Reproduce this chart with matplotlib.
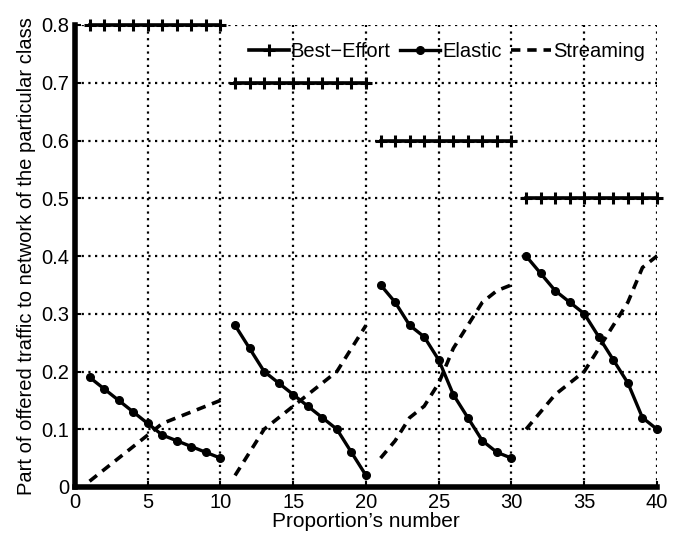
import matplotlib
matplotlib.use("Agg")
import matplotlib.pyplot as plt

plt.rcParams['font.family'] = ['Liberation Sans', 'DejaVu Sans']

# Proportion numbers, four groups of ten
groups = [list(range(1, 11)), list(range(11, 21)), list(range(21, 31)), list(range(31, 41))]

best_effort = [
    [0.8] * 10,
    [0.7] * 10,
    [0.6] * 10,
    [0.5] * 10,
]

elastic = [
    [0.19, 0.17, 0.15, 0.13, 0.11, 0.09, 0.08, 0.07, 0.06, 0.05],
    [0.28, 0.24, 0.20, 0.18, 0.16, 0.14, 0.12, 0.10, 0.06, 0.02],
    [0.35, 0.32, 0.28, 0.26, 0.22, 0.16, 0.12, 0.08, 0.06, 0.05],
    [0.40, 0.37, 0.34, 0.32, 0.30, 0.26, 0.22, 0.18, 0.12, 0.10],
]

streaming = [
    [0.01, 0.03, 0.05, 0.07, 0.09, 0.11, 0.12, 0.13, 0.14, 0.15],
    [0.02, 0.06, 0.10, 0.12, 0.14, 0.16, 0.18, 0.20, 0.24, 0.28],
    [0.05, 0.08, 0.12, 0.14, 0.18, 0.24, 0.28, 0.32, 0.34, 0.35],
    [0.10, 0.13, 0.16, 0.18, 0.20, 0.24, 0.28, 0.32, 0.38, 0.40],
]

fig = plt.figure(figsize=(6.8, 5.35), dpi=100)
ax = fig.add_axes([75 / 680, 1 - 487 / 535, (657 - 75) / 680, (487 - 25) / 535])

for i, xs in enumerate(groups):
    ax.plot(xs, best_effort[i], color="black", lw=2.6, marker="+", ms=8, mew=2.2,
            label="Best\u2212Effort" if i == 0 else None, clip_on=False, zorder=3)
    ax.plot(xs, elastic[i], color="black", lw=2.4, marker="o", ms=5.5,
            label="Elastic" if i == 0 else None, clip_on=False, zorder=3)
    ax.plot(xs, streaming[i], color="black", lw=2.6, ls=(0, (2.6, 1.9)),
            label="Streaming" if i == 0 else None, clip_on=False, zorder=3)

ax.set_xlim(0, 40)
ax.set_ylim(0, 0.8)
ax.set_xticks(range(0, 41, 5))
ax.set_yticks([0, 0.1, 0.2, 0.3, 0.4, 0.5, 0.6, 0.7, 0.8])
ax.set_yticklabels(["0", "0.1", "0.2", "0.3", "0.4", "0.5", "0.6", "0.7", "0.8"])
ax.grid(True, color="black", ls=(0, (1, 2)), lw=1.6)
ax.tick_params(direction="in", labelsize=14.5, length=4, width=1.5, pad=4)

for side in ["top", "right"]:
    ax.spines[side].set_visible(False)
for side in ["left", "bottom"]:
    ax.spines[side].set_linewidth(4)

ax.set_xlabel("Proportion\u2019s number", fontsize=15, labelpad=0)
ax.set_ylabel("Part of offered traffic to network of the particular class", fontsize=14.5, labelpad=4)

ax.legend(loc="upper right", ncol=3, frameon=False, fontsize=14.5, handlelength=2.0,
          handletextpad=0.1, columnspacing=0.45, bbox_to_anchor=(1.0, 0.99), borderaxespad=0.2)

fig.savefig("out.png", dpi=100)
